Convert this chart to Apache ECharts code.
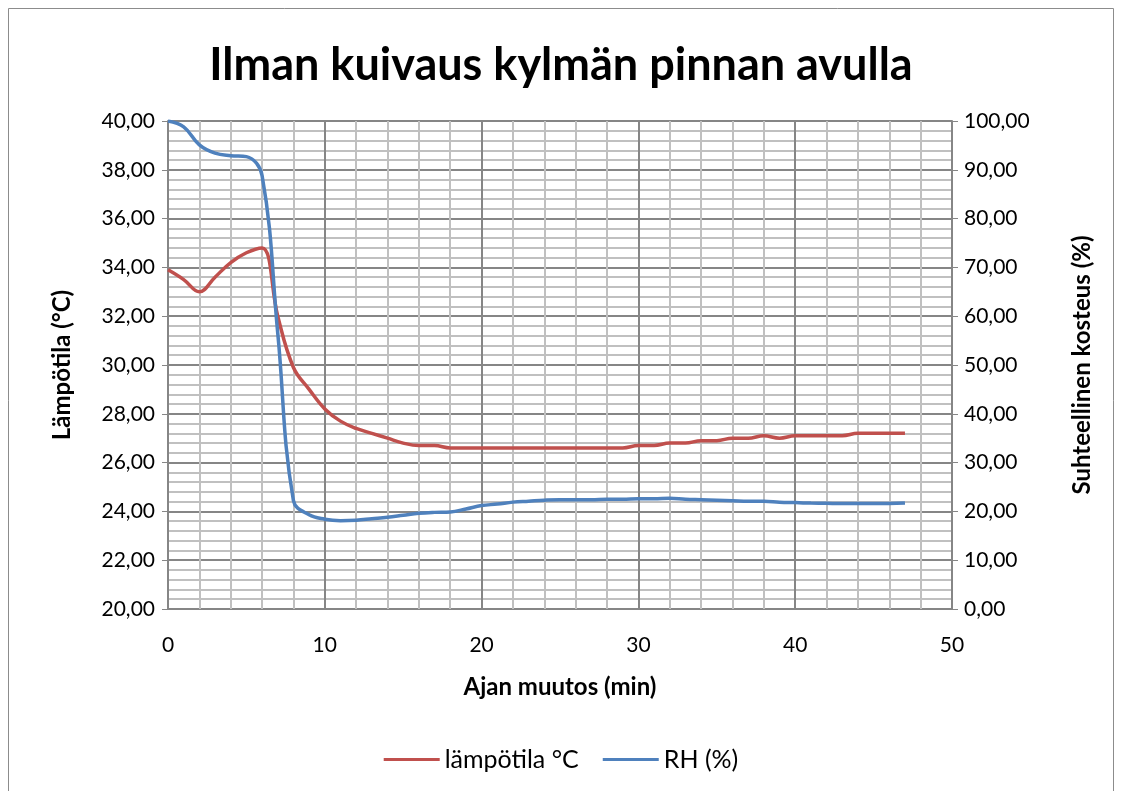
<!DOCTYPE html>
<html>
<head>
<meta charset="utf-8">
<script src="https://cdn.jsdelivr.net/npm/echarts@6/dist/echarts.min.js"></script>
<style>
  html, body { margin: 0; padding: 0; background: #ffffff; }
  #chart { width: 1122px; height: 791px; }
</style>
</head>
<body>
<div id="chart"></div>
<script>
// Elapsed time in minutes
const minutes = [0,1,2,3,4,5,6,7,8,9,10,11,12,13,14,15,16,17,18,19,20,21,22,23,24,25,26,27,28,29,30,31,32,33,34,35,36,37,38,39,40,41,42,43,44,45,46,47];

// Air temperature (°C)
const temperature = [33.9,33.5,33.0,33.6,34.2,34.6,34.8,32.0,29.9,29.0,28.2,27.7,27.4,27.2,27.0,26.8,26.7,26.7,26.6,26.6,26.6,26.6,26.6,26.6,26.6,26.6,26.6,26.6,26.6,26.6,26.7,26.7,26.8,26.8,26.9,26.9,27.0,27.0,27.1,27.0,27.1,27.1,27.1,27.1,27.2,27.2,27.2,27.2];

// Relative humidity (%)
const humidity = [100.0,98.8,95.1,93.4,92.9,92.7,88.8,56.5,22.2,19.3,18.4,18.1,18.2,18.5,18.8,19.2,19.6,19.8,19.9,20.5,21.2,21.5,21.9,22.1,22.3,22.4,22.4,22.4,22.5,22.5,22.6,22.6,22.7,22.5,22.4,22.3,22.2,22.1,22.1,21.9,21.8,21.7,21.65,21.6,21.6,21.6,21.6,21.7];

const FONT = 'Lato, "Open Sans", sans-serif';
const fmt2 = v => v.toFixed(2).replace('.', ',');

const chart = echarts.init(document.getElementById('chart'), null, { renderer: 'canvas' });

chart.setOption({
  backgroundColor: '#ffffff',
  animation: false,
  textStyle: { fontFamily: FONT, color: '#000000' },
  graphic: [{
    type: 'rect',
    shape: { x: 8.5, y: 8.5, width: 1105, height: 800 },
    style: { fill: 'none', stroke: '#8c8c8c', lineWidth: 1 },
    silent: true
  }],
  title: {
    text: 'Ilman kuivaus kylmän pinnan avulla',
    left: 'center',
    top: 38,
    textStyle: { fontFamily: FONT, fontSize: 45, fontWeight: 'bold', color: '#000000' }
  },
  legend: {
    bottom: 14,
    left: 'center',
    itemWidth: 56,
    itemHeight: 3,
    itemGap: 24,
    icon: 'rect',
    textStyle: { fontFamily: FONT, fontSize: 25, color: '#000000' },
    data: ['lämpötila °C', 'RH (%)']
  },
  grid: { left: 168, right: 170, top: 121, bottom: 182, containLabel: false },
  xAxis: {
    type: 'value',
    min: 0, max: 50, interval: 10,
    name: 'Ajan muutos (min)',
    nameLocation: 'middle',
    nameGap: 66,
    nameTextStyle: { fontFamily: FONT, fontSize: 24, fontWeight: 'bold', color: '#000000' },
    axisLine: { show: true, lineStyle: { color: '#868686', width: 1 } },
    axisTick: { show: false },
    axisLabel: { fontFamily: FONT, fontSize: 21, color: '#000000', margin: 26 },
    splitLine: { show: true, lineStyle: { color: '#868686', width: 2 } },
    minorTick: { show: false, splitNumber: 5 },
    minorSplitLine: { show: true, lineStyle: { color: '#c0c0c0', width: 2 } }
  },
  yAxis: [{
    type: 'value',
    position: 'left',
    min: 20, max: 40, interval: 2,
    name: 'Lämpötila (°C)',
    nameLocation: 'middle',
    nameRotate: 90,
    nameGap: 94,
    nameTextStyle: { fontFamily: FONT, fontSize: 24, fontWeight: 'bold', color: '#000000' },
    axisLine: { show: true, lineStyle: { color: '#868686', width: 2 } },
    axisTick: { show: true, length: 6, lineStyle: { color: '#868686' } },
    axisLabel: { fontFamily: FONT, fontSize: 21, color: '#000000', margin: 13, formatter: fmt2 },
    splitLine: { show: true, lineStyle: { color: '#868686', width: 2 } },
    minorTick: { show: false, splitNumber: 5 },
    minorSplitLine: { show: true, lineStyle: { color: '#c0c0c0', width: 2 } }
  }, {
    type: 'value',
    position: 'right',
    min: 0, max: 100, interval: 10,
    name: 'Suhteellinen kosteus (%)',
    nameLocation: 'middle',
    nameRotate: 90,
    nameGap: 118,
    nameTextStyle: { fontFamily: FONT, fontSize: 24, fontWeight: 'bold', color: '#000000' },
    axisLine: { show: true, lineStyle: { color: '#868686', width: 2 } },
    axisTick: { show: true, length: 6, lineStyle: { color: '#868686' } },
    axisLabel: { fontFamily: FONT, fontSize: 21, color: '#000000', margin: 12, formatter: fmt2 },
    splitLine: { show: false }
  }],
  series: [{
    name: 'lämpötila °C',
    type: 'line',
    yAxisIndex: 0,
    data: minutes.map((m, i) => [m, temperature[i]]),
    smooth: 0.4,
    showSymbol: false,
    symbol: 'none',
    lineStyle: { color: '#C0504D', width: 3.5 },
    itemStyle: { color: '#C0504D' }
  }, {
    name: 'RH (%)',
    type: 'line',
    yAxisIndex: 1,
    data: minutes.map((m, i) => [m, humidity[i]]),
    smooth: 0.4,
    showSymbol: false,
    symbol: 'none',
    lineStyle: { color: '#4F81BD', width: 3.5 },
    itemStyle: { color: '#4F81BD' }
  }]
});
</script>
</body>
</html>
